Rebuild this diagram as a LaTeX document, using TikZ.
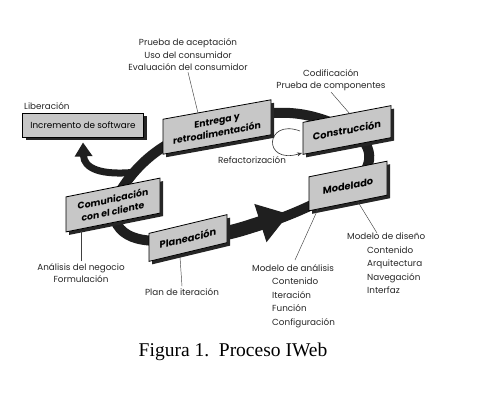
\documentclass[tikz,border=0pt]{standalone}
\usepackage{fontspec}
\setmainfont{Poppins}
\newfontfamily\capfont{Liberation Serif}
\usetikzlibrary{shadows,arrows.meta}
\pgfdeclarelayer{bg}
\pgfsetlayers{bg,main}
\begin{document}
\begin{tikzpicture}[x=1pt,y=-1pt,
  box/.style={draw=black, line width=0.8pt, fill=black!22, text=black,
    font=\bfseries\fontsize{9.3}{12.5}\selectfont, align=center, inner sep=1.5pt,
    transform shape,
    general shadow={fill=black!85, shadow xshift=3pt, shadow yshift=-3pt}},
  lab/.style={font=\fontsize{8.8}{12.5}\selectfont, inner sep=0pt, text=black!85},
  lead/.style={line width=0.45pt, black!75},
  band/.style={line width=10pt, black!88}]
\useasboundingbox (0,0) rectangle (482,407);

% boxes
\node[box, font=\fontsize{8.8}{10}\selectfont, minimum width=121, minimum height=24] (inc) at (83,125) {Incremento de software};
\begin{scope}[shift={(217,127)}, yslant=0.18]
  \node[box, minimum width=108, minimum height=35] (ent) at (0,0) {Entrega y\\retroalimentación};
\end{scope}
\begin{scope}[shift={(347,130)}, yslant=0.19]
  \node[box, font=\bfseries\fontsize{9.8}{11}\selectfont, minimum width=88, minimum height=32] (con) at (0,0) {Construcción};
\end{scope}
\begin{scope}[shift={(348,186)}, yslant=0.2]
  \node[box, font=\bfseries\fontsize{9.8}{11}\selectfont, minimum width=78, minimum height=34] (mod) at (0,0) {Modelado};
\end{scope}
\begin{scope}[shift={(113,205)}, yslant=0.2]
  \node[box, minimum width=94, minimum height=35] (com) at (0,0) {Comunicación\\con el cliente};
\end{scope}
\begin{scope}[shift={(188,238)}, yslant=0.24]
  \node[box, font=\bfseries\fontsize{9.8}{11}\selectfont, minimum width=78, minimum height=28] (pla) at (0,0) {Planeación};
\end{scope}

% loop band (behind boxes)
\coordinate (br) at (137,172);
\coordinate (tip) at (289,214);
\begin{pgfonlayer}{bg}
  \draw[band] (com.center) .. controls (130,168) and (165,135) .. (ent.center)
     .. controls (260,110) and (300,105) .. (con.center)
     .. controls (375,140) and (378,170) .. (mod.center)
     .. controls (310,208) and (250,236) .. (pla.center)
     .. controls (140,246) and (112,238) .. (com.center);
  \draw[band, line width=7pt, -{Triangle[length=14pt,width=17pt]}]
     (br) .. controls (100,176) and (84,168) .. ([yshift=-5pt]inc.south);
  \draw[band, line width=14pt, -{Triangle[length=30pt,width=38pt]}]
     (pla.center) .. controls (225,236) and (245,228) .. (tip);
\end{pgfonlayer}

% refactorizacion loop
\coordinate (rf1) at (300,131);
\coordinate (rf2) at (302,153);
\draw[line width=0.6pt, black!80, -{Stealth[length=5pt,width=4pt]}]
  (rf1) .. controls (265,118) and (262,165) .. (rf2);
\node[lab] (lref) at (252,160) {Refactorización};

% labels
\node[lab, align=center] (lent) at (188,55) {Prueba de aceptación\\Uso del consumidor\\Evaluación del consumidor};
\coordinate (cent) at (198,113);
\draw[lead] ([yshift=-1pt]lent.south) -- (cent);

\node[lab, align=center] (lcon) at (331,80) {Codificación\\Prueba de componentes};
\coordinate (ccon) at (350,114);
\draw[lead] ([yshift=-1pt]lcon.south) -- (ccon);

\node[lab, anchor=west] (llib) at (24,106) {Liberación};

\node[lab, align=center] (lana) at (81,273) {Análisis del negocio\\Formulación};
\coordinate (ccom) at (81,231);
\draw[lead] ([yshift=2pt]lana.north) -- (ccom);

\node[lab] (lpla) at (182,292) {Plan de iteración};
\coordinate (cpla) at (180,257);
\draw[lead] ([yshift=2pt]lpla.north) -- (cpla);

\node[lab, align=left, anchor=north west, font=\fontsize{8.8}{13.5}\selectfont] (lman) at (252,264)
  {Modelo de análisis\\\hspace*{20pt}Contenido\\\hspace*{20pt}Iteración\\\hspace*{20pt}Función\\\hspace*{20pt}Configuración};
\coordinate (cman1) at (295,260);
\coordinate (cmod1) at (318,209);
\draw[lead] (cman1) -- (cmod1);

\node[lab, align=left, anchor=north west, font=\fontsize{8.8}{13.4}\selectfont] (lmdi) at (347,233)
  {Modelo de diseño\\\hspace*{20pt}Contenido\\\hspace*{20pt}Arquitectura\\\hspace*{20pt}Navegación\\\hspace*{20pt}Interfaz};
\coordinate (cmod2) at (358,202);
\draw[lead] ([xshift=30pt]lmdi.north west) -- (cmod2);

% caption
\node[font=\capfont\fontsize{19.5}{21}\selectfont, inner sep=0pt] (cap) at (233,352) {Figura 1.\ \ Proceso IWeb};
\end{tikzpicture}
\end{document}
